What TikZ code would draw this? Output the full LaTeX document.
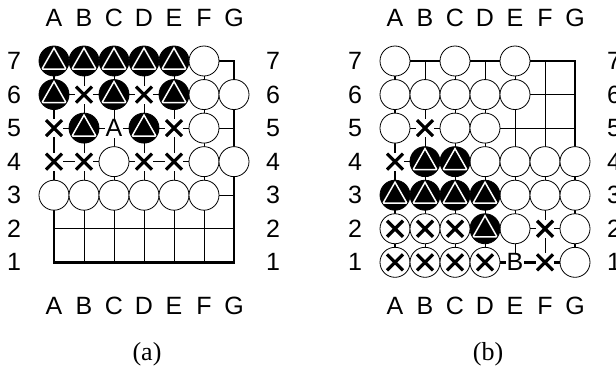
\documentclass[tikz,border=0pt]{standalone}
\usepackage{fontspec}
\setmainfont{Liberation Sans}
\newfontfamily\capfont{Liberation Serif}

\tikzset{
  gridline/.style={line width=0.8pt},
  boardedge/.style={line width=2.8pt},
  stone/.style={circle, draw, line width=0.8pt, minimum size=30pt, inner sep=0pt},
  whitestone/.style={stone, fill=white},
  blackstone/.style={stone, fill=black, path picture={
      \draw[white, line width=1.5pt, fill=black]
        ([yshift=13pt]path picture bounding box.center) -- ++(-12pt,-21pt) -- ++(24pt,0pt) -- cycle;}},
  cross/.style={line width=3.2pt},
  crosspic/.style={path picture={
      \draw[cross] ([shift={(-8pt,-8pt)}]path picture bounding box.center) -- ++(16pt,16pt);
      \draw[cross] ([shift={(-8pt,8pt)}]path picture bounding box.center) -- ++(16pt,-16pt);}},
  xstone/.style={whitestone, crosspic},
  xpoint/.style={rectangle, fill=white, minimum size=18pt, inner sep=0pt, crosspic},
  biglabel/.style={font=\fontsize{25}{30}\selectfont},
  pointlabel/.style={biglabel, fill=white, inner sep=1pt},
  boardcaption/.style={font=\capfont\fontsize{26}{31}\selectfont},
}

\begin{document}
\begin{tikzpicture}[x=1pt, y=1pt]
  \useasboundingbox (0,0) rectangle (616,368);

  % boards, coordinates and captions
  \foreach \b/\dx in {a/0, b/341}{
    \begin{scope}[shift={(24pt+\dx pt,72.15pt)}, x=30pt, y=33.55pt]
      \foreach \c in {2,...,6} \draw[gridline] (\c,1) -- (\c,7);
      \foreach \r in {2,...,6} \draw[gridline] (1,\r) -- (7,\r);
      \draw[boardedge] (1,1) rectangle (7,7);
      \foreach \l [count=\c] in {A,B,C,D,E,F,G}{
        \node[biglabel] (\b-top\l) at (\c,8.28) {\l};
        \node[biglabel] (\b-bot\l) at (\c,-0.29) {\l};
      }
      \foreach \r in {1,...,7}{
        \node[biglabel] (\b-left\r) at (-0.33,\r) {\r};
        \node[biglabel] (\b-right\r) at (8.3,\r) {\r};
      }
      \node[boardcaption] (\b-caption) at (4.1,-1.73) {(\b)};
    \end{scope}
  }

  % board (a)
  \begin{scope}[shift={(24pt,72.15pt)}, x=30pt, y=33.55pt]
    \foreach \c/\r in {1/7,2/7,3/7,4/7,5/7,1/6,3/6,5/6,2/5,4/5}
      \node[blackstone] (a-\c\r) at (\c,\r) {};
    \foreach \c/\r in {6/7,6/6,7/6,6/5,3/4,6/4,7/4,1/3,2/3,3/3,4/3,5/3,6/3}
      \node[whitestone] (a-\c\r) at (\c,\r) {};
    \foreach \c/\r in {2/6,4/6,1/5,5/5,1/4,2/4,4/4,5/4}
      \node[xpoint] (a-\c\r) at (\c,\r) {};
    \node[pointlabel] (a-35) at (3,5) {A};
  \end{scope}

  % board (b)
  \begin{scope}[shift={(365pt,72.15pt)}, x=30pt, y=33.55pt]
    \foreach \c/\r in {1/7,3/7,5/7,1/6,2/6,3/6,4/6,5/6,1/5,3/5,4/5,4/4,5/4,6/4,7/4,5/3,6/3,7/3,5/2,7/2,7/1}
      \node[whitestone] (b-\c\r) at (\c,\r) {};
    \foreach \c/\r in {2/4,3/4,1/3,2/3,3/3,4/3,4/2}
      \node[blackstone] (b-\c\r) at (\c,\r) {};
    \foreach \c/\r in {1/2,2/2,3/2,1/1,2/1,3/1,4/1}
      \node[xstone] (b-\c\r) at (\c,\r) {};
    \foreach \c/\r in {2/5,1/4,6/2,6/1}
      \node[xpoint] (b-\c\r) at (\c,\r) {};
    \node[pointlabel] (b-51) at (5,1) {B};
  \end{scope}
\end{tikzpicture}
\end{document}
